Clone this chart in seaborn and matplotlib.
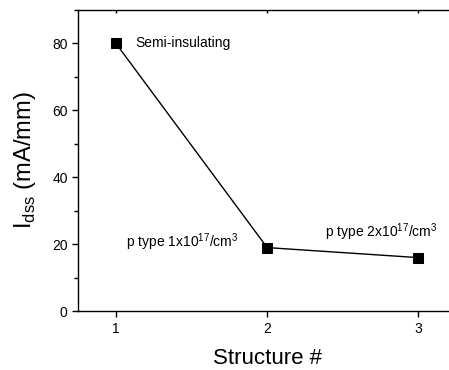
import numpy as np
import pandas as pd
import matplotlib
matplotlib.use("Agg")
import matplotlib.pyplot as plt
from matplotlib.ticker import MultipleLocator
import seaborn as sns

# data
structure = [1, 2, 3]
idss = [80, 19, 16]
labels = ["Semi-insulating", r"p type 1x10$^{17}$/cm$^3$", r"p type 2x10$^{17}$/cm$^3$"]
label_x = [1.125, 1.065, 2.38]
label_y = [80, 20.5, 23.5]

df = pd.DataFrame({"structure": structure, "idss": idss})

sns.set_theme(style="ticks")
plt.rcParams["font.family"] = ["Liberation Sans", "DejaVu Sans"]
plt.rcParams["mathtext.fontset"] = "custom"
plt.rcParams["mathtext.rm"] = "Liberation Sans"
plt.rcParams["text.color"] = "black"
plt.rcParams["axes.labelcolor"] = "black"
plt.rcParams["xtick.color"] = "black"
plt.rcParams["ytick.color"] = "black"

fig = plt.figure(figsize=(4.49, 3.7), dpi=100)
ax = fig.add_axes([0.174, 0.159, 0.842, 0.814])

sns.lineplot(
        data=df,
        x="structure",
        y="idss",
        marker="s",
        markersize=7,
        markeredgecolor="black",
        color="black",
        linewidth=1,
        ax=ax,
        )

for t, x, y in zip(labels, label_x, label_y):
    ax.text(x, y, t, fontsize=10, va="center", ha="left")

ax.set_xlim(0.75, 3.25)
ax.set_ylim(0, 90)
ax.set_xticks([1, 2, 3])
ax.set_yticks([0, 20, 40, 60, 80])
ax.yaxis.set_minor_locator(MultipleLocator(10))
ax.tick_params(axis="both", labelsize=10, length=4, width=1, direction="out")
ax.tick_params(axis="y", which="minor", length=3, width=1)
# small inward ticks on the top spine
ax.tick_params(axis="x", top=True, which="major")
for tk in ax.xaxis.get_major_ticks():
    tk.tick2line.set_marker(3)
    tk.tick2line.set_markersize(2)

ax.spines["right"].set_visible(False)
for s in ax.spines.values():
    s.set_color("black")
    s.set_linewidth(1)

ax.set_xlabel("Structure #", fontsize=16, labelpad=9)
ax.set_ylabel(r"I$_{\rm dss}$ (mA/mm)", fontsize=17, labelpad=10)

fig.savefig("out.png", dpi=100)
